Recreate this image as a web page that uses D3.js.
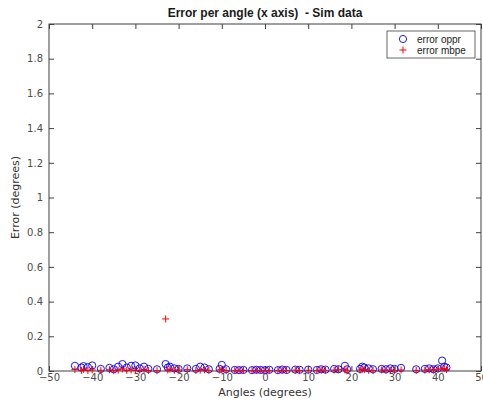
<!DOCTYPE html>
<html>
<head>
<meta charset="utf-8">
<script src="https://cdn.jsdelivr.net/npm/d3@7"></script>
<style>
  body { margin: 0; background: #fff; }
  svg text { font-family: "DejaVu Sans", sans-serif; }
</style>
</head>
<body>
<script>
// angle (deg) for each sample, and the two error series
const angles = [-44, -42.5, -42, -41, -40, -38, -36, -35, -34, -33, -32, -31, -30, -29, -28, -27, -25,
  -23, -22.5, -22, -21, -20, -18, -16, -15, -14, -13, -10.5, -10, -9, -7, -6, -5, -3, -2, -1, 0, 1,
  3, 4, 5, 7, 8, 10, 12, 13, 14, 16, 17, 18.5, 19, 22, 22.5, 23, 24, 25, 27, 28, 29, 30, 31.5, 35,
  37, 38, 39, 40, 41, 41.5, 42];
const errOppr = [0.030, 0.020, 0.028, 0.022, 0.032, 0.012, 0.018, 0.010, 0.025, 0.040, 0.020, 0.030,
  0.032, 0.015, 0.025, 0.012, 0.010, 0.040, 0.020, 0.025, 0.015, 0.012, 0.015, 0.012, 0.025, 0.020,
  0.010, 0.012, 0.035, 0.010, 0.006, 0.005, 0.006, 0.005, 0.007, 0.006, 0.005, 0.007, 0.005, 0.008,
  0.006, 0.008, 0.007, 0.008, 0.006, 0.010, 0.008, 0.012, 0.010, 0.030, 0.010, 0.012, 0.025, 0.020,
  0.015, 0.010, 0.012, 0.010, 0.015, 0.012, 0.018, 0.010, 0.012, 0.015, 0.010, 0.015, 0.060, 0.025, 0.020];
const errMbpe = [0.008, 0.004, 0.010, 0.003, 0.006, 0.004, 0.007, 0.002, 0.005, 0.012, 0.004, 0.006,
  0.003, 0.005, 0.008, 0.003, 0.002, 0.300, 0.006, 0.010, 0.004, 0.006, 0.008, 0.003, 0.005, 0.007,
  0.004, 0.006, 0.008, 0.003, 0.002, 0.004, 0.003, 0.002, 0.004, 0.003, 0.002, 0.003, 0.002, 0.004,
  0.003, 0.005, 0.002, 0.004, 0.003, 0.006, 0.004, 0.005, 0.008, 0.006, 0.004, 0.005, 0.010, 0.008,
  0.004, 0.003, 0.006, 0.004, 0.005, 0.003, 0.006, 0.004, 0.005, 0.007, 0.006, 0.010, 0.012, 0.015, 0.008];

const xTicks = [-50, -40, -30, -20, -10, 0, 10, 20, 30, 40, 50];
const yTicks = [0, 0.2, 0.4, 0.6, 0.8, 1, 1.2, 1.4, 1.6, 1.8, 2];
const seriesNames = ['error oppr', 'error mbpe'];

const W = 483, H = 400;
const margin = { top: 24, right: 2, bottom: 29, left: 49 };
const width = W - margin.left - margin.right;
const height = H - margin.top - margin.bottom;
const axisColor = '#404040';

const x = d3.scaleLinear().domain([-50, 50]).range([0, width]);
const y = d3.scaleLinear().domain([0, 2]).range([height, 0]);

const svg = d3.select('body').append('svg').attr('width', W).attr('height', H);
const g = svg.append('g').attr('transform', `translate(${margin.left},${margin.top})`);

// axes, MATLAB style: inward ticks on all four sides
function styleAxis(sel, showLabels) {
  sel.select('.domain').remove();
  sel.selectAll('line').attr('stroke', axisColor);
  sel.selectAll('text').attr('fill', '#4d4d4d').style('font-size', '10px');
  if (!showLabels) sel.selectAll('text').remove();
}
const fmt = d => d3.format('~g')(d);

g.append('g').attr('transform', `translate(0,${height})`)
  .call(d3.axisBottom(x).tickValues(xTicks).tickFormat(fmt).tickSizeInner(-5).tickSizeOuter(0).tickPadding(3))
  .call(s => styleAxis(s, true));
g.append('g')
  .call(d3.axisTop(x).tickValues(xTicks).tickSizeInner(-5).tickSizeOuter(0))
  .call(s => styleAxis(s, false));
g.append('g')
  .call(d3.axisLeft(y).tickValues(yTicks).tickFormat(fmt).tickSizeInner(-5).tickSizeOuter(0).tickPadding(6))
  .call(s => styleAxis(s, true));
g.append('g').attr('transform', `translate(${width},0)`)
  .call(d3.axisRight(y).tickValues(yTicks).tickSizeInner(-5).tickSizeOuter(0))
  .call(s => styleAxis(s, false));

g.append('rect').attr('width', width).attr('height', height)
  .attr('fill', 'none').attr('stroke', axisColor).attr('stroke-width', 1);

// markers
const plot = g.append('g');
plot.selectAll('.oppr').data(angles).enter().append('circle')
  .attr('class', 'oppr')
  .attr('cx', d => x(d))
  .attr('cy', (d, i) => y(errOppr[i]))
  .attr('r', 3.6)
  .attr('fill', 'none').attr('stroke', '#0000ff').attr('stroke-width', 0.9);

plot.selectAll('.mbpe').data(angles).enter().append('path')
  .attr('class', 'mbpe')
  .attr('d', (d, i) => `M${x(d) - 3.5},${y(errMbpe[i])}h7M${x(d)},${y(errMbpe[i]) - 3.5}v7`)
  .attr('stroke', '#ff0000').attr('stroke-width', 1).attr('fill', 'none');

// title and axis labels
svg.append('text').attr('x', margin.left + width / 2).attr('y', 17)
  .attr('text-anchor', 'middle').style('font-size', '12px').style('font-weight', 'bold')
  .style('font-family', '"Liberation Sans", Arial, sans-serif').style('white-space', 'pre')
  .attr('fill', '#1a1a1a')
  .text('Error per angle (x axis)  - Sim data');
svg.append('text').attr('x', margin.left + width / 2).attr('y', 396)
  .attr('text-anchor', 'middle').style('font-size', '11px').attr('fill', '#333')
  .text('Angles (degrees)');
svg.append('text').attr('transform', `translate(19,${margin.top + height / 2}) rotate(-90)`)
  .attr('text-anchor', 'middle').style('font-size', '11px').attr('fill', '#333')
  .text('Error (degrees)');

// legend
const lg = svg.append('g').attr('transform', 'translate(387,31)');
lg.append('rect').attr('width', 88).attr('height', 27)
  .attr('fill', '#fff').attr('stroke', axisColor).attr('stroke-width', 0.8);
lg.append('circle').attr('cx', 16).attr('cy', 8).attr('r', 3.6)
  .attr('fill', 'none').attr('stroke', '#0000ff').attr('stroke-width', 0.9);
lg.append('path').attr('d', 'M12.5,19h7M16,15.5v7').attr('stroke', '#ff0000').attr('fill', 'none');
lg.selectAll('.lt').data(seriesNames).enter().append('text')
  .attr('x', 30).attr('y', (d, i) => 11.5 + i * 11)
  .style('font-size', '10px').attr('fill', '#1a1a1a')
  .style('font-family', '"Liberation Sans", Arial, sans-serif')
  .text(d => d);
</script>
</body>
</html>
